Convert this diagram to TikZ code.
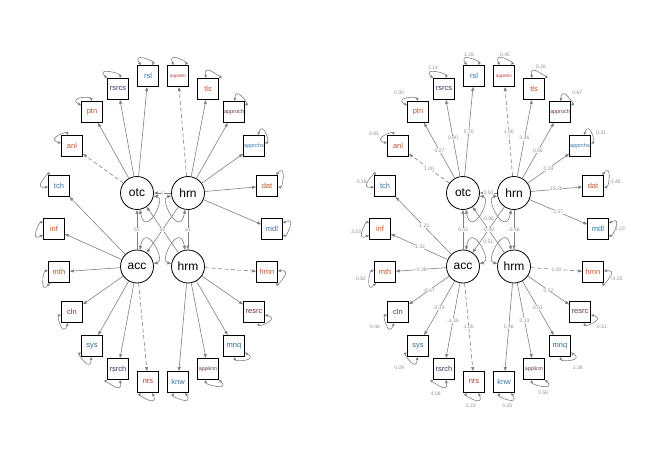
\documentclass[tikz,border=0pt]{standalone}
\usepackage{fontspec}
\setmainfont{Liberation Sans}
\usetikzlibrary{arrows.meta}
\newif\ifR
\definecolor{eg}{HTML}{808080}
\definecolor{lc}{HTML}{9A8A8C}
\definecolor{cb}{HTML}{2F74A8}
\definecolor{ct}{HTML}{2A7090}
\definecolor{co}{HTML}{C0542C}
\definecolor{cr}{HTML}{B83A36}
\definecolor{cd}{HTML}{6A3440}
\definecolor{cn}{HTML}{34386E}
\tikzset{
 lat/.style={circle,draw=black,line width=0.8pt,minimum size=33pt,inner sep=0pt,font=\fontsize{12}{12}\selectfont,text=black},
 obs/.style={rectangle,draw=black,line width=0.8pt,minimum width=21pt,minimum height=21pt,inner sep=0pt,font=\fontsize{7.5}{7.5}\selectfont},
 edge/.style={draw=eg,line width=0.6pt,-{Triangle[length=4pt,width=3pt]}},
 dsh/.style={dash pattern=on 4pt off 2.5pt},
 lbl/.style={fill=white,inner sep=0.4pt,text=lc,font=\fontsize{5}{5}\selectfont},
 selfl/.style={draw=eg,line width=0.6pt,{Triangle[length=3pt,width=2.5pt]}-{Triangle[length=3pt,width=2.5pt]},min distance=16pt},
 latloop/.style={draw=eg,line width=0.6pt,{Triangle[length=4pt,width=3pt]}-{Triangle[length=4pt,width=3pt]},min distance=30pt}
}
\newcommand\E[4]{\ifR\draw[edge,#3] (#1) -- node[lbl]{#4} (#2);\else\draw[edge,#3] (#1) -- (#2);\fi}
\newcommand\C[5]{\draw[edge,#3] (#1) -- node[lbl]{\ifR#5\else#4\fi} (#2);}
\newcommand\Lp[5]{\pgfmathsetmacro\ao{#2+28}\pgfmathsetmacro\ai{#2-28}%
 \draw[selfl] (#1) to[out=\ao,in=\ai] (#1);%
 \ifR\node[lbl,fill=none] (#1-v) at (#3,#4) {#5};\fi}
\newcommand\B[6]{\node[obs,text=#4,font=\fontsize{#5}{#5}\selectfont] (#1) at (#2,#3) {#6};}
\newcommand\panel{%
 \node[lat] (otc) at (137,265) {otc};
 \node[lat] (hrn) at (188,265) {hrn};
 \node[lat] (acc) at (137,191.5) {acc};
 \node[lat] (hrm) at (188,191.5) {hrm};
 \B{rsl}{148}{382}{cb}{7.5}{rsl}
 \B{rsrcs}{118}{369}{cn}{7.5}{rsrcs}
 \B{ptn}{92}{346}{co}{7.5}{ptn}
 \B{anl}{72}{312}{co}{7.5}{anl}
 \B{tch}{59}{272}{cb}{7.5}{tch}
 \B{inf}{54}{229}{co}{7.5}{inf}
 \B{mth}{59}{186}{co}{7.5}{mth}
 \B{cln}{72}{146}{cd}{7.5}{cln}
 \B{sys}{92}{112}{ct}{7.5}{sys}
 \B{rsrch}{118}{89}{cn}{7.5}{rsrch}
 \B{nrs}{148}{76}{cr}{7.5}{nrs}
 \B{knw}{178}{76}{cb}{7.5}{knw}
 \B{applicm}{208}{89}{cd}{5.3}{applicm}
 \B{mnq}{234}{112}{ct}{7.5}{mnq}
 \B{resrc}{254}{146}{cd}{7.5}{resrc}
 \B{hmn}{267}{186}{co}{7.5}{hmn}
 \B{mdl}{272}{229}{cb}{7.5}{mdl}
 \B{dat}{267}{272}{co}{7.5}{dat}
 \B{apprchs}{254}{312}{cb}{5.5}{apprchs}
 \B{approch}{234}{346}{cd}{5.5}{approch}
 \B{tls}{208}{369}{co}{7.5}{tls}
 \B{applelm}{178}{382}{cr}{4.6}{applelm}
 \E{otc}{rsl}{}{0.70}
 \E{otc}{rsrcs}{}{0.80}
 \E{otc}{ptn}{}{0.27}
 \E{otc}{anl}{dsh}{1.00}
 \E{hrn}{applelm}{dsh}{1.00}
 \E{hrn}{tls}{}{0.46}
 \E{hrn}{approch}{}{0.66}
 \E{hrn}{apprchs}{}{0.39}
 \E{hrn}{dat}{}{15.28}
 \E{hrn}{mdl}{}{2.57}
 \E{acc}{tch}{}{-1.23}
 \E{acc}{inf}{}{-1.32}
 \E{acc}{mth}{}{-0.38}
 \E{acc}{cln}{}{-0.47}
 \E{acc}{sys}{}{0.34}
 \E{acc}{rsrch}{}{-1.35}
 \E{acc}{nrs}{dsh}{1.00}
 \E{hrm}{hmn}{dsh}{1.00}
 \E{hrm}{resrc}{}{0.52}
 \E{hrm}{mnq}{}{0.61}
 \E{hrm}{applicm}{}{0.13}
 \E{hrm}{knw}{}{0.46}
 \draw[edge] (hrm) -- (otc);
 \draw[latloop] (otc) to[out=-80,in=-10] (otc);
 \draw[latloop] (hrn) to[out=-100,in=-170] (hrn);
 \draw[latloop] (acc) to[out=80,in=10] (acc);
 \draw[latloop] (hrm) to[out=100,in=170] (hrm);
 \C{hrn}{otc}{}{c}{0.50}
 \C{acc}{otc}{}{b2}{0.03}
 \C{hrn}{hrm}{}{a1}{-0.48}
 \C{hrn}{acc}{}{a2}{-0.08}
 \ifR
  \node[lbl,fill=none] (lv1) at (162.3,239.5) {-0.98};
  \node[lbl,fill=none] (lv2) at (162.3,216.5) {0.51};
 \fi
 \Lp{rsl}{95.6}{143}{403}{1.28}
 \Lp{rsrcs}{107.8}{107}{390.3}{1.14}
 \Lp{ptn}{121.3}{73}{365.3}{0.30}
 \Lp{anl}{137.6}{48}{324.3}{0.85}
 \Lp{tch}{157.5}{35.7}{276.3}{0.18}
 \Lp{inf}{180}{30}{226.3}{3.33}
 \Lp{mth}{202.5}{35}{179}{0.82}
 \Lp{cln}{222.4}{49}{131}{0.46}
 \Lp{sys}{238.7}{73.3}{90.7}{0.29}
 \Lp{rsrch}{252.2}{109.7}{64}{4.08}
 \Lp{nrs}{264.4}{144.7}{52}{2.23}
 \Lp{knw}{275.6}{181.3}{52}{5.25}
 \Lp{applicm}{287.8}{217.3}{65.3}{0.56}
 \Lp{mnq}{301.3}{251.7}{90.7}{1.38}
 \Lp{resrc}{317.6}{275.7}{131.3}{0.51}
 \Lp{hmn}{337.5}{290.7}{179}{-0.25}
 \Lp{mdl}{0}{294}{229}{1.23}
 \Lp{dat}{22.5}{289}{276.3}{-2.45}
 \Lp{apprchs}{42.4}{275}{325.3}{0.31}
 \Lp{approch}{58.7}{251.3}{365.3}{0.67}
 \Lp{tls}{72.2}{215}{391.3}{0.26}
 \Lp{applelm}{84.4}{179}{403}{0.45}
}
\begin{document}
\begin{tikzpicture}[x=1pt,y=1pt]
\useasboundingbox (0,0) rectangle (652,458);
\begin{scope}[name prefix=L-]
\Rfalse
\panel
\end{scope}
\begin{scope}[name prefix=R-,xshift=326pt]
\Rtrue
\panel
\end{scope}
\end{tikzpicture}
\end{document}
